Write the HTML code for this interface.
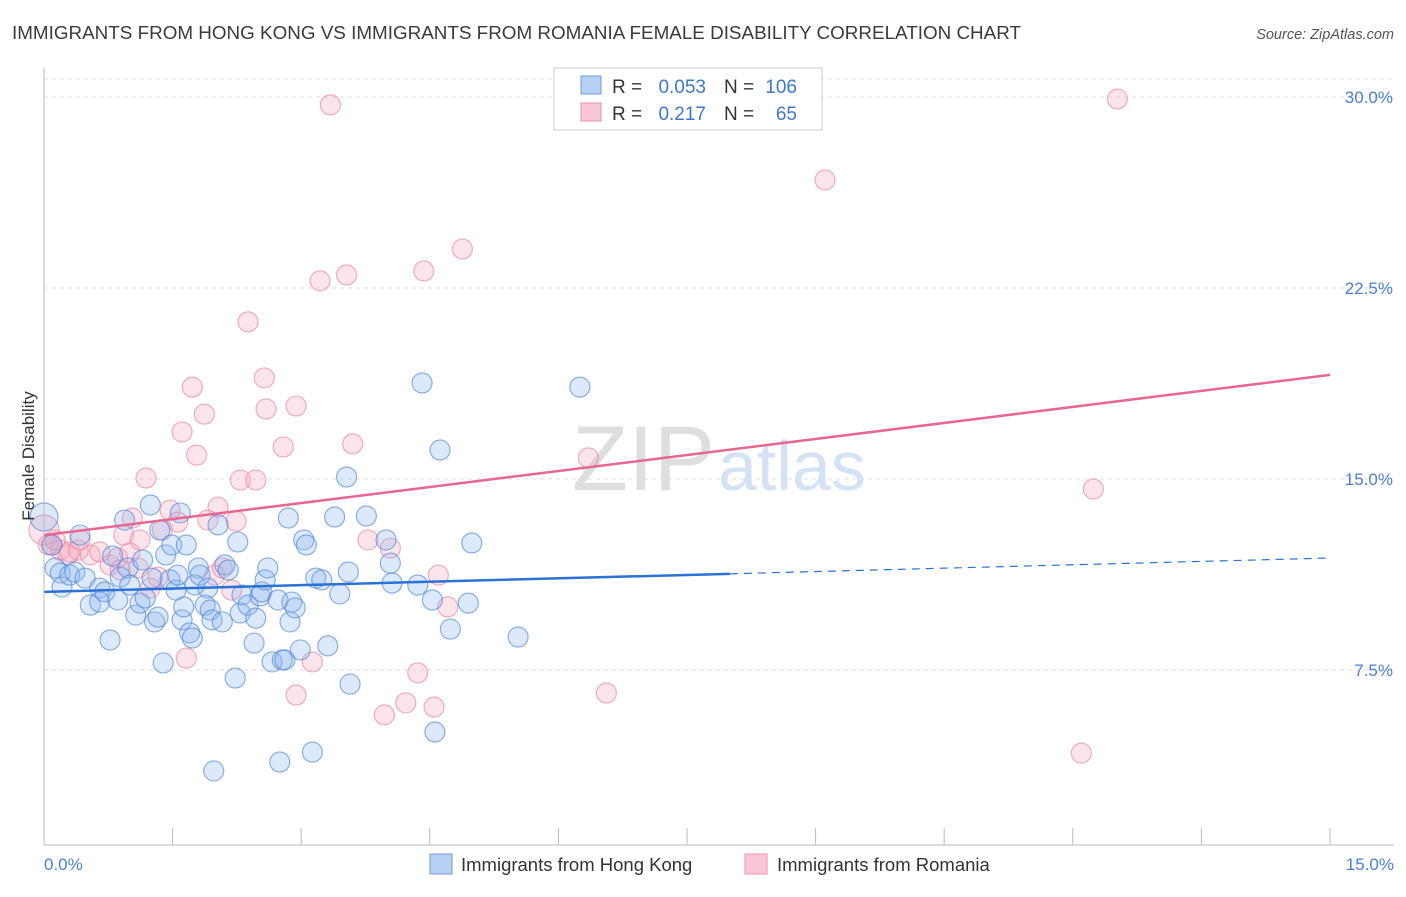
<!DOCTYPE html>
<html><head><meta charset="utf-8"><style>
body{margin:0;background:#fff;font-family:"Liberation Sans",sans-serif}
svg text{font-family:"Liberation Sans",sans-serif}
</style></head><body>
<svg width="1406" height="892" viewBox="0 0 1406 892">
<text x="12" y="39" font-size="18" fill="#3a3a3a" textLength="1009" lengthAdjust="spacingAndGlyphs">IMMIGRANTS FROM HONG KONG VS IMMIGRANTS FROM ROMANIA FEMALE DISABILITY CORRELATION CHART</text>
<text x="1394" y="39" font-size="14.5" fill="#555" text-anchor="end" font-style="italic">Source: ZipAtlas.com</text>
<g id="grid"></g>
<text x="715" y="490" font-size="92" fill="#dedede" text-anchor="end" font-family="Liberation Serif">ZIP</text>
<text x="718" y="490" font-size="70" fill="#d3e2f5">atlas</text>
<g id="pts"></g>
<g id="trends"></g>
<line x1="44" y1="68" x2="44" y2="845" stroke="#bbb"/>
<line x1="44" y1="845" x2="1394" y2="845" stroke="#bbb"/>
<g id="xt"></g>
<text x="44" y="870" font-size="17" fill="#4a7fd4">0.0%</text>
<text x="1394" y="870" font-size="17" fill="#4a7fd4" text-anchor="end">15.0%</text>
<text transform="translate(34,456) rotate(-90)" font-size="17" fill="#333" text-anchor="middle">Female Disability</text>
<g>
<rect x="554" y="68" width="268" height="62" fill="#fff" stroke="#ccc"/>
<rect x="581" y="76" width="20" height="18" fill="#b7d0f3" stroke="#6d9be0"/>
<rect x="581" y="103" width="20" height="18" fill="#f8c6d4" stroke="#ea93ad"/>
<text x="612" y="93" font-size="19" fill="#333">R =</text>
<text x="706" y="93" font-size="19" fill="#3d77d0" text-anchor="end">0.053</text>
<text x="724" y="93" font-size="19" fill="#333">N =</text>
<text x="797" y="93" font-size="19" fill="#3d77d0" text-anchor="end">106</text>
<text x="612" y="120" font-size="19" fill="#333">R =</text>
<text x="706" y="120" font-size="19" fill="#3d77d0" text-anchor="end">0.217</text>
<text x="724" y="120" font-size="19" fill="#333">N =</text>
<text x="797" y="120" font-size="19" fill="#3d77d0" text-anchor="end">65</text>
</g>
<g>
<rect x="430" y="854" width="22" height="20" fill="#b7d0f3" stroke="#6d9be0"/>
<text x="461" y="871" font-size="18.5" fill="#333">Immigrants from Hong Kong</text>
<rect x="745" y="854" width="22" height="20" fill="#f8c6d4" stroke="#ea93ad"/>
<text x="777" y="871" font-size="18.5" fill="#333">Immigrants from Romania</text>
</g>
</svg>
<script>
const yTicks=[30,22.5,15,7.5];
const yTickLabels=["30.0%","22.5%","15.0%","7.5%"];
const xTicks=[1.5,3,4.5,6,7.5,9,10.5,12,13.5,15];
const blueX=[0,.09,.13,.19,.21,.30,.36,.42,.48,.54,.65,.65,.71,.77,.80,.86,.89,.94,.98,1.00,1.07,1.12,1.15,1.18,1.24,1.26,1.29,1.33,1.35,1.39,1.42,1.47,1.49,1.54,1.56,1.59,1.61,1.63,1.66,1.70,1.73,1.76,1.80,1.82,1.88,1.91,1.94,1.96,1.98,2.03,2.08,2.11,2.15,2.23,2.26,2.29,2.31,2.38,2.45,2.47,2.52,2.54,2.58,2.61,2.66,2.73,2.75,2.78,2.81,2.85,2.87,2.89,2.93,2.99,3.03,3.06,3.13,3.17,3.24,3.31,3.39,3.45,3.53,3.55,3.57,3.76,3.99,4.04,4.06,4.36,4.41,4.53,4.56,4.62,4.74,4.95,4.99,5.53,6.25];
const blueY=[13.51,12.41,11.51,11.31,10.76,11.23,11.35,12.80,11.11,10.05,10.72,10.17,10.57,8.68,11.98,10.25,11.15,13.39,11.51,10.84,9.66,10.13,11.82,10.33,13.98,11.11,9.39,9.58,13.00,7.78,12.02,11.04,12.41,10.64,11.23,13.67,9.47,9.98,12.41,8.96,8.76,10.84,11.51,11.23,10.05,10.72,9.86,9.47,3.54,13.20,9.39,11.63,11.43,7.19,12.53,9.74,10.45,10.05,8.56,9.54,10.41,10.57,11.04,11.51,7.82,10.25,3.89,7.90,7.90,13.47,9.39,10.17,9.94,8.29,12.61,12.41,4.28,11.11,11.04,8.45,13.51,10.49,15.08,11.35,6.95,13.55,12.61,11.70,10.92,10.84,18.77,10.25,5.07,16.14,9.11,10.13,12.49,8.80,18.61];
const pinkX=[3.34,12.52,9.11,4.88,4.43,3.53,3.22,2.38,2.57,1.73,2.94,2.59,1.87,1.61,3.60,2.79,1.78,6.35,1.19,2.29,2.47,12.24,2.03,1.47,1.56,2.24,1.03,1.38,.93,1.12,3.78,4.04,.09,.19,.28,.40,.54,.65,.77,.86,1.00,.89,1.10,1.24,1.33,1.99,2.08,1.91,4.60,2.19,4.71,1.66,3.13,4.36,2.94,6.56,4.22,4.55,3.97,12.10,0,.05,.13,.30,.42];
const pinkY=[29.69,29.92,26.74,24.03,23.17,23.01,22.78,21.17,18.97,18.61,17.87,17.75,17.55,16.85,16.38,16.26,15.94,15.83,15.04,14.96,14.96,14.61,13.90,13.78,13.31,13.35,13.47,13.00,12.80,12.61,12.61,12.29,12.41,12.21,12.02,12.21,12.02,12.14,11.63,11.90,12.10,11.43,11.51,10.72,11.15,11.23,11.51,13.39,11.23,10.64,9.98,7.97,7.82,7.39,6.52,6.60,6.21,6.05,5.74,4.24,13.00,12.41,12.61,12.14,12.61];
const blueTrend=[10.57,11.90];
const pinkTrend=[12.80,19.09];
const blueSolidEnd=8.0;
const NS="http://www.w3.org/2000/svg";
const X=v=>44+v*85.73, Y=v=>97+(30-v)*25.47;
function mk(t,a,p){const e=document.createElementNS(NS,t);for(const k in a)e.setAttribute(k,a[k]);p.appendChild(e);return e;}
const grid=document.getElementById('grid');
mk('line',{x1:44,x2:1394,y1:79,y2:79,stroke:'#ddd','stroke-dasharray':'4,4'},grid);
yTicks.forEach((t,i)=>{
 const l=mk('line',{x1:44,x2:1394,y1:Y(t),y2:Y(t),stroke:'#ddd','stroke-dasharray':'4,4'},grid);
 
 
 const tx=mk('text',{x:1393,y:Y(t)+6,'font-size':17,fill:'#4a7fd4','text-anchor':'end'},grid);
 tx.textContent=yTickLabels[i];
 
 
});
const xt=document.getElementById('xt');
xTicks.forEach(t=>{
 const l=mk('line',{x1:X(t),x2:X(t),y1:828,y2:845,stroke:'#bbb'},xt);
 
 
});
const pts=document.getElementById('pts');
pinkX.forEach((x,i)=>{
 const c=mk('circle',{cx:X(x),cy:Y(pinkY[i]),r:(x===0?15:10),fill:'rgba(244,165,190,0.3)',stroke:'rgba(232,130,160,0.65)','stroke-width':1.2},pts);
 
 
});
blueX.forEach((x,i)=>{
 const c=mk('circle',{cx:X(x),cy:Y(blueY[i]),r:(x===0?14:10),fill:'rgba(140,182,238,0.3)',stroke:'rgba(80,135,215,0.65)','stroke-width':1.2},pts);
 
 
});
const tr=document.getElementById('trends');
const bAt=v=>blueTrend[0]+(blueTrend[1]-blueTrend[0])*v/15;
let l1=mk('line',{x1:X(0),y1:Y(bAt(0)),x2:X(blueSolidEnd),y2:Y(bAt(blueSolidEnd)),stroke:'#2a72d6','stroke-width':2.5},tr);


let l2=mk('line',{x1:X(blueSolidEnd),y1:Y(bAt(blueSolidEnd)),x2:X(15),y2:Y(bAt(15)),stroke:'#2a72d6','stroke-width':1.2,'stroke-dasharray':'8,6'},tr);


let l3=mk('line',{x1:X(0),y1:Y(pinkTrend[0]),x2:X(15),y2:Y(pinkTrend[1]),stroke:'#e8668f','stroke-width':2.5},tr);


</script>
</body></html>
